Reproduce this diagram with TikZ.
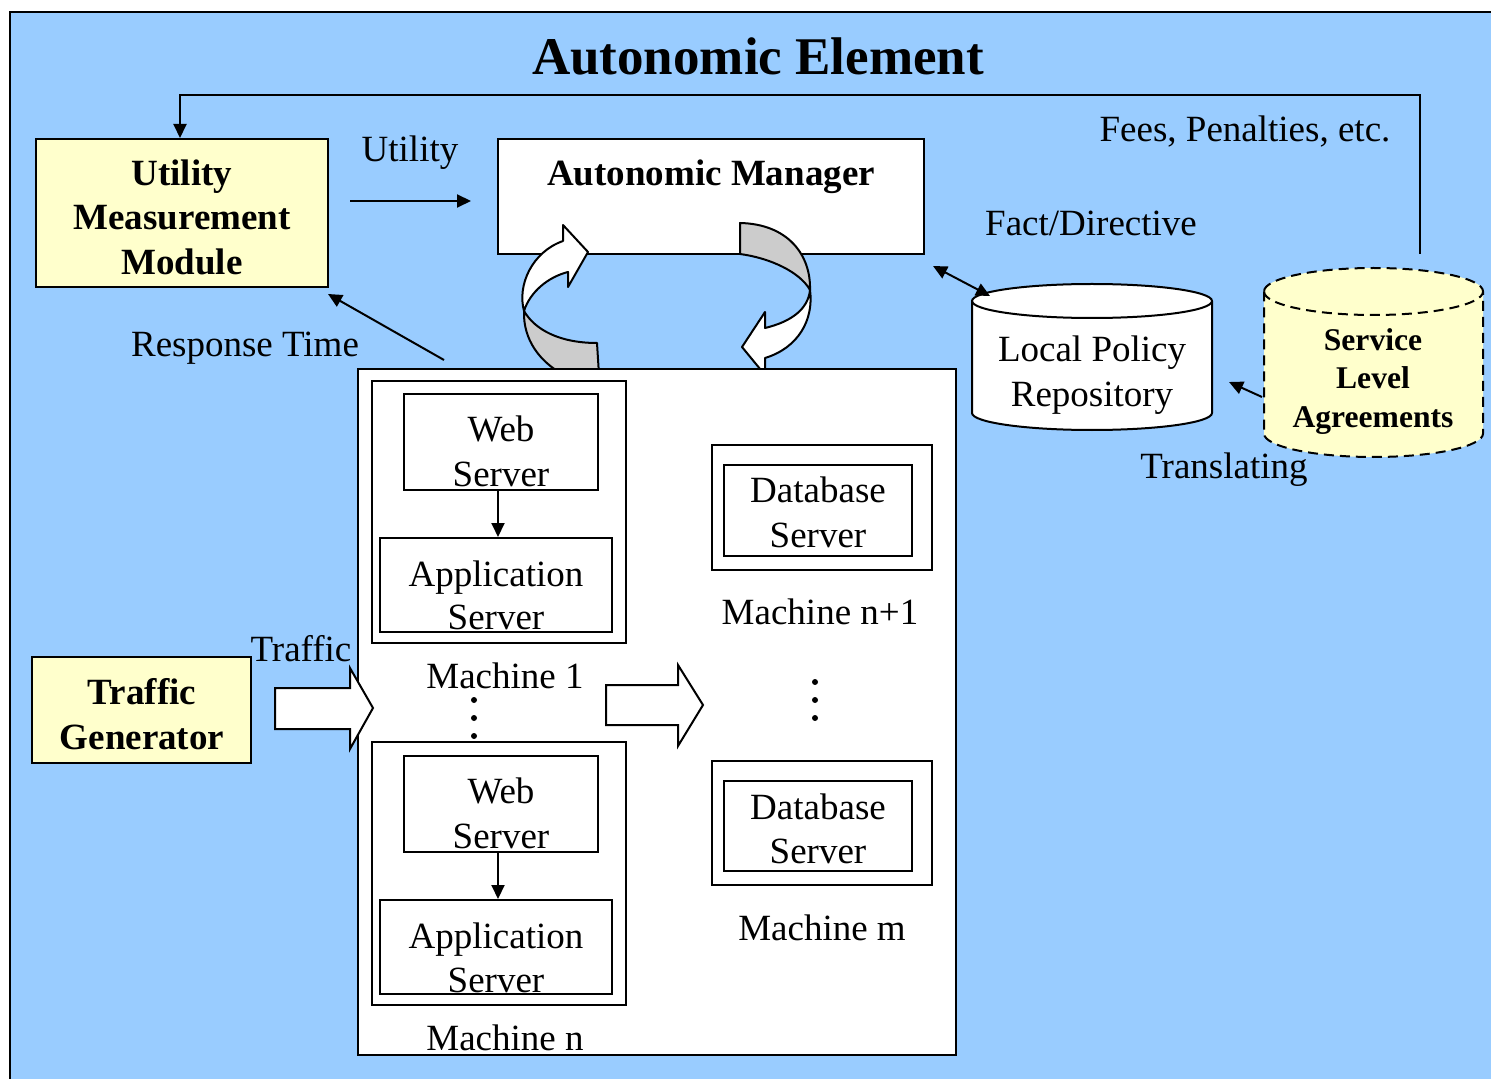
\documentclass[tikz,border=0pt]{standalone}
\usepackage{fontspec}
\setmainfont{Liberation Serif}
\usetikzlibrary{arrows.meta,fit}
\definecolor{bgblue}{HTML}{99CCFF}
\definecolor{paleyellow}{HTML}{FFFFCC}
\definecolor{ribbongrey}{HTML}{CCCCCC}

\newcommand\bodyfont{\fontsize{18.5}{22.5}\selectfont}
\newcommand\titlefont{\fontsize{26.5}{30}\selectfont\bfseries}
\newcommand\slafont{\fontsize{15.8}{19}\selectfont\bfseries}

\begin{document}
\begin{tikzpicture}[x=0.5pt,y=-0.5pt,
  >={Triangle[length=7pt,width=6.5pt]},
  box/.style={draw, line width=1pt, inner sep=0pt, fill=white},
  ybox/.style={box, fill=paleyellow},
  txt/.style={inner sep=0pt, anchor=base, font=\bodyfont},
  btxt/.style={inner sep=0pt, anchor=base, font=\bodyfont\bfseries},
  stxt/.style={inner sep=0pt, anchor=base, font=\slafont},
  conn/.style={line width=1pt, ->},
  ribbon/.style={draw, line width=1pt, line join=round},
  blockarrow/.style={draw, fill=white, line width=1pt, line join=miter},
  dot/.style={circle, fill=black, inner sep=0pt, minimum size=3pt},
]
\useasboundingbox (0,0) rectangle (1491,1079);
\clip (0,0) rectangle (1491,1079);

% background frame
\path[fill=bgblue, draw, line width=1.25pt] (10,12) rectangle (1540,1130);

\node[txt, font=\titlefont] (title) at (758,75) {Autonomic Element};

% utility module and manager
\node[ybox, fit={(36,139) (328,287)}] (umm) {};
\node[btxt] (ummA) at (182,186) {Utility};
\node[btxt] (ummB) at (182,230) {Measurement};
\node[btxt] (ummC) at (182,275) {Module};

\node[box, fit={(498,139) (924,254)}] (am) {};
\node[btxt] (amT) at (711,186) {Autonomic Manager};

% control loop ribbons
\path[ribbon, fill=ribbongrey] (524,311) .. controls (535,330) and (560,343) .. (597,343)
  -- (599,375) -- (564,375) .. controls (540,362) and (523,340) .. (524,311) -- cycle;
\path[ribbon, fill=white] (524,311) .. controls (517,285) and (532,252) .. (563,241)
  -- (563,225) -- (588,252) -- (568,287) -- (568,272)
  .. controls (548,277) and (530,292) .. (524,311) -- cycle;
\path[ribbon, fill=ribbongrey] (740,223) .. controls (788,224) and (811,255) .. (810,290)
  .. controls (800,272) and (770,258) .. (740,254) -- cycle;
\path[ribbon, fill=white] (810,290) .. controls (814,320) and (798,348) .. (765,358)
  -- (765,375) -- (742,347) -- (765,312) -- (765,328)
  .. controls (790,322) and (808,310) .. (810,290) -- cycle;

% managed machines
\node[box, fit={(358,369) (956,1055)}] (mach) {};

\node[box, fit={(372,381) (626,643)}] (m1) {};
\node[box, fit={(404,394) (598,490)}] (web1) {};
\node[box, fit={(380,538) (612,632)}] (app1) {};
\node[txt] (web1A) at (501,441) {Web};
\node[txt] (web1B) at (501,486) {Server};
\node[txt] (app1A) at (496,586) {Application};
\node[txt] (app1B) at (496,629) {Server};
\node[txt] (m1T) at (505,688) {Machine 1};

\node[box, fit={(372,742) (626,1005)}] (mn) {};
\node[box, fit={(404,756) (598,852)}] (webn) {};
\node[box, fit={(380,900) (612,994)}] (appn) {};
\node[txt] (webnA) at (501,803) {Web};
\node[txt] (webnB) at (501,848) {Server};
\node[txt] (appnA) at (496,948) {Application};
\node[txt] (appnB) at (496,992) {Server};
\node[txt] (mnT) at (505,1050) {Machine n};

\node[box, fit={(712,445) (932,570)}] (dbo1) {};
\node[box, fit={(724,465) (912,556)}] (dbi1) {};
\node[txt] (db1A) at (818,502) {Database};
\node[txt] (db1B) at (818,547) {Server};
\node[txt] (db1T) at (820,624) {Machine n+1};

\node[box, fit={(712,761) (932,885)}] (dbo2) {};
\node[box, fit={(724,781) (912,871)}] (dbi2) {};
\node[txt] (db2A) at (818,819) {Database};
\node[txt] (db2B) at (818,863) {Server};
\node[txt] (db2T) at (822,940) {Machine m};

\node[dot] (d1) at (474,700) {};
\node[dot] (d2) at (474,718) {};
\node[dot] (d3) at (474,736) {};
\node[dot] (d4) at (815,682) {};
\node[dot] (d5) at (815,700) {};
\node[dot] (d6) at (815,718) {};

\draw[conn] ([xshift=-1.5pt]web1.south) -- ([xshift=-1.5pt]web1.south |- app1.north);
\draw[conn] ([xshift=-1.5pt]webn.south) -- ([xshift=-1.5pt]webn.south |- appn.north);

% traffic generator
\node[ybox, fit={(32,657) (251,763)}] (tg) {};
\node[btxt] (tgA) at (142,704) {Traffic};
\node[btxt] (tgB) at (142,749) {Generator};
\node[txt] (trafT) at (301,661) {Traffic};

\path[blockarrow] (275,688) -- (350,688) -- (350,668) -- (373,708) -- (350,749)
  -- (350,729) -- (275,729) -- cycle;
\path[blockarrow] (606,685) -- (678,685) -- (678,665) -- (703,705) -- (678,746)
  -- (678,725) -- (606,725) -- cycle;

% local policy repository
\path[fill=white, draw, line width=1pt]
  (972,301) -- (972,413) .. controls (972,422.4) and (1025.7,430) .. (1092,430)
  .. controls (1158.3,430) and (1212,422.4) .. (1212,413) -- (1212,301)
  .. controls (1212,291.6) and (1158.3,284) .. (1092,284)
  .. controls (1025.7,284) and (972,291.6) .. (972,301) -- cycle;
\draw[line width=1pt] (972,301) .. controls (972,310.4) and (1025.7,318) .. (1092,318)
  .. controls (1158.3,318) and (1212,310.4) .. (1212,301);
\node[txt] (lpA) at (1092,362) {Local Policy};
\node[txt] (lpB) at (1092,407) {Repository};

% service level agreements
\path[fill=paleyellow, draw, line width=1pt, dash pattern=on 5pt off 3pt]
  (1264,291.5) -- (1264,433.5) .. controls (1264,446.5) and (1313,457) .. (1373.5,457)
  .. controls (1434,457) and (1483,446.5) .. (1483,433.5) -- (1483,291.5)
  .. controls (1483,278.5) and (1434,268) .. (1373.5,268)
  .. controls (1313,268) and (1264,278.5) .. (1264,291.5) -- cycle;
\draw[line width=1pt, dash pattern=on 5pt off 3pt]
  (1264,291.5) .. controls (1264,304.5) and (1313,315) .. (1373.5,315)
  .. controls (1434,315) and (1483,304.5) .. (1483,291.5);
\node[stxt] (slaA) at (1373,351) {Service};
\node[stxt] (slaB) at (1373,389) {Level};
\node[stxt] (slaC) at (1373,427) {Agreements};

% labels
\node[txt] (utilT) at (410,162) {Utility};
\node[txt] (feesT) at (1245,142) {Fees, Penalties, etc.};
\node[txt] (factT) at (1091,236) {Fact/Directive};
\node[txt] (respT) at (245,357) {Response Time};
\node[txt] (transT) at (1224,478) {Translating};

% connectors
\coordinate (fbStart) at (1420,254);
\coordinate (fbTop) at (1420,95);
\draw[conn] (fbStart) -- (fbTop) -| ([xshift=-1pt]umm.north);
\coordinate (utilFrom) at (350,201);
\coordinate (utilTo) at (471,201);
\draw[conn] (utilFrom) -- (utilTo);
\coordinate (rtFrom) at (444,360);
\coordinate (rtTo) at (328,294);
\draw[conn] (rtFrom) -- (rtTo);
\coordinate (fdA) at (933,266);
\coordinate (fdB) at (990,296);
\draw[line width=1pt, <->] (fdA) -- (fdB);
\coordinate (trFrom) at (1262,397);
\coordinate (trTo) at (1229,382);
\draw[conn] (trFrom) -- (trTo);
\end{tikzpicture}
\end{document}
